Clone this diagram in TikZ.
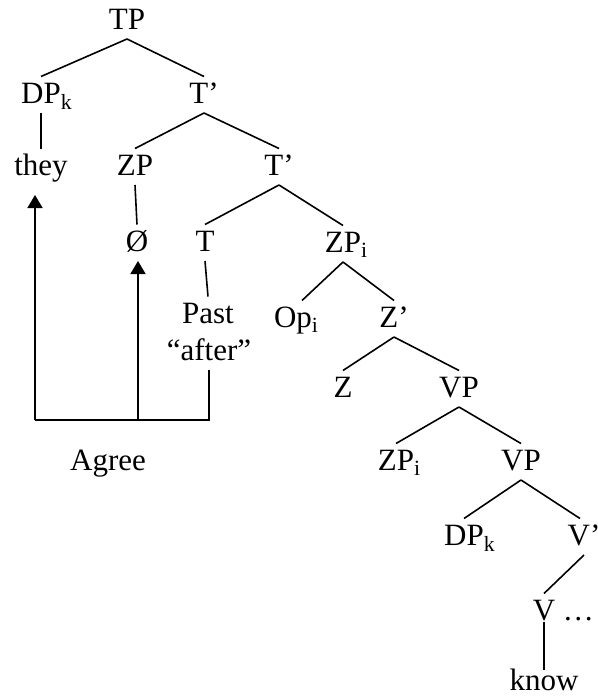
\documentclass[tikz,border=0pt]{standalone}
\usepackage{fontspec}
\setmainfont{Liberation Serif}
\usetikzlibrary{arrows.meta}
\newcommand{\sbs}[1]{\rlap{\textsubscript{#1}}}
\begin{document}
\begin{tikzpicture}[x=1pt,y=-1pt,
  lbl/.style={anchor=base,inner xsep=0pt,inner ysep=3.5pt,outer sep=0pt,
    text height=23pt,text depth=6.5pt,font=\fontsize{31}{37}\selectfont},
  edge/.style={line width=1.6pt},
  agr/.style={line width=1.6pt,-{Triangle[length=13pt,width=15pt]}}]
\useasboundingbox (0,0) rectangle (597,696);
\node[lbl] (tp) at (127,29) {TP};
\node[lbl] (dpk) at (41,103) {DP\sbs{k}};
\node[lbl] (tb1) at (204,103) {T’};
\node[lbl] (they) at (41,175) {they};
\node[lbl] (zp) at (135,175) {ZP};
\node[lbl] (tb2) at (279,175) {T’};
\node[lbl] (oslash) at (137,251) {Ø};
\node[lbl] (t) at (205,251) {T};
\node[lbl] (zpi) at (343,252) {ZP\sbs{i}};
\node[lbl] (past) at (208,323) {Past};
\node[lbl] (after) at (209,360) {“after”};
\node[lbl] (opi) at (293,327) {Op\sbs{i}};
\node[lbl] (zb) at (394,327) {Z’};
\node[lbl] (z) at (343,397) {Z};
\node[lbl] (vp1) at (459,397) {VP};
\node[lbl] (zpi2) at (396,470) {ZP\sbs{i}};
\node[lbl] (vp2) at (521,470) {VP};
\node[lbl] (dpk2) at (464,545) {DP\sbs{k}};
\node[lbl] (vb) at (584,545) {V’};
\node[lbl] (v) at (544,620) {V\rlap{ …}};
\node[lbl] (know) at (544,690) {know};
\node[lbl] (agree) at (108,470) {Agree};
% tree edges
\draw[edge] (tp.south) -- (dpk.north);
\draw[edge] (tp.south) -- (tb1.north);
\draw[edge] (dpk.south) -- (they.north);
\draw[edge] (tb1.south) -- (zp.north);
\draw[edge] (tb1.south) -- (tb2.north);
\draw[edge] (zp.south) -- (oslash.north);
\draw[edge] (tb2.south) -- (t.north);
\draw[edge] (tb2.south) -- (zpi.north);
\draw[edge] (t.south) -- (past.north);
\draw[edge] (zpi.south) -- ([xshift=9pt]opi.north);
\draw[edge] (zpi.south) -- (zb.north);
\draw[edge] (zb.south) -- (z.north);
\draw[edge] (zb.south) -- (vp1.north);
\draw[edge] (vp1.south) -- (zpi2.north);
\draw[edge] (vp1.south) -- (vp2.north);
\draw[edge] (vp2.south) -- (dpk2.north);
\draw[edge] (vp2.south) -- ([xshift=-4pt]vb.north);
\draw[edge] (vb.south) -- (v.north);
\draw[edge] ([yshift=8pt]v.south) -- ([yshift=-6pt]know.north);
% agree arrows
\coordinate (cl) at (35,420);
\coordinate (cm) at (138,420);
\draw[edge] (after.south) |- (cl);
\draw[agr,shorten >=10pt] (cl) -- (cl |- they.south);
\draw[agr] (cm) -- (cm |- oslash.south);
\end{tikzpicture}
\end{document}
